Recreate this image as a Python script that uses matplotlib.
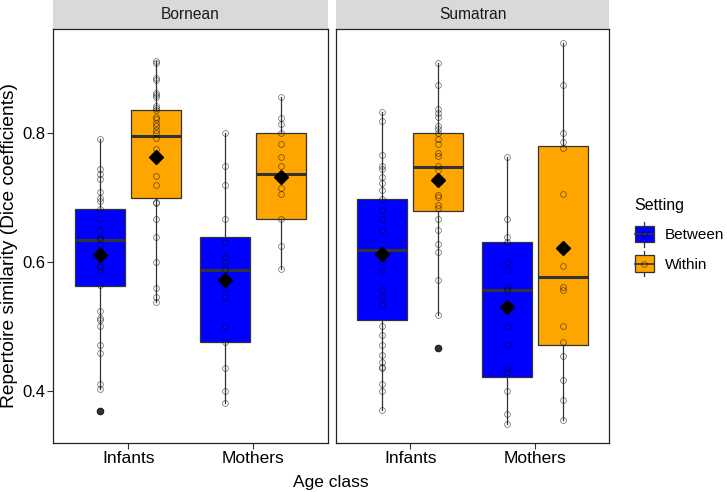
"""
Repertoire similarity by age class, species and setting (boxplots with raw points).
"""
import matplotlib
matplotlib.use('Agg')
import matplotlib.pyplot as plt
from matplotlib.patches import Patch, Rectangle
from matplotlib.lines import Line2D
from matplotlib.legend_handler import HandlerBase

plt.rcParams['font.family'] = ['Liberation Sans', 'DejaVu Sans']

species = ['Bornean', 'Sumatran']
ages = ['Infants', 'Mothers']
settings = ['Between', 'Within']
colors = {'Between': '#0000FF', 'Within': '#FFA500'}

# raw values
born_inf_between = [0.791, 0.744, 0.736, 0.728, 0.708, 0.699, 0.695, 0.682, 0.667, 0.650,
                    0.638, 0.635, 0.626, 0.619, 0.595, 0.592, 0.585, 0.564, 0.524, 0.513,
                    0.510, 0.501, 0.471, 0.458, 0.411, 0.402, 0.369]
born_inf_within = [0.911, 0.908, 0.885, 0.882, 0.862, 0.858, 0.856, 0.842, 0.838, 0.836,
                   0.825, 0.821, 0.815, 0.810, 0.805, 0.800, 0.792, 0.775, 0.733, 0.719,
                   0.693, 0.691, 0.666, 0.639, 0.600, 0.560, 0.546, 0.538]
born_mot_between = [0.800, 0.749, 0.719, 0.666, 0.631, 0.607, 0.600, 0.589, 0.567, 0.559,
                    0.545, 0.500, 0.475, 0.435, 0.400, 0.381]
born_mot_within = [0.856, 0.823, 0.814, 0.800, 0.782, 0.762, 0.749, 0.732, 0.714, 0.705,
                   0.666, 0.624, 0.589]
suma_inf_between = [0.833, 0.818, 0.765, 0.749, 0.744, 0.732, 0.722, 0.711, 0.697, 0.681,
                    0.666, 0.650, 0.612, 0.599, 0.585, 0.556, 0.546, 0.533, 0.500, 0.486,
                    0.471, 0.456, 0.444, 0.437, 0.435, 0.411, 0.400, 0.370]
suma_inf_within = [0.909, 0.874, 0.837, 0.830, 0.824, 0.810, 0.806, 0.800, 0.790, 0.782,
                   0.769, 0.764, 0.749, 0.743, 0.728, 0.704, 0.700, 0.688, 0.683, 0.666,
                   0.650, 0.628, 0.615, 0.571, 0.517, 0.466]
suma_mot_between = [0.762, 0.666, 0.639, 0.631, 0.600, 0.588, 0.561, 0.556, 0.500, 0.471,
                    0.435, 0.429, 0.400, 0.364, 0.348]
suma_mot_within = [0.939, 0.874, 0.800, 0.785, 0.776, 0.705, 0.593, 0.561, 0.556, 0.500,
                   0.476, 0.454, 0.417, 0.385, 0.354]

# box statistics, order: species -> age -> setting
q1 = [0.562, 0.699, 0.476, 0.666, 0.509, 0.678, 0.422, 0.471]
med = [0.634, 0.795, 0.588, 0.736, 0.619, 0.747, 0.556, 0.576]
q3 = [0.682, 0.835, 0.639, 0.799, 0.697, 0.799, 0.631, 0.779]
whislo = [0.402, 0.538, 0.381, 0.589, 0.370, 0.517, 0.348, 0.354]
whishi = [0.791, 0.911, 0.800, 0.856, 0.833, 0.909, 0.762, 0.939]
means = [0.610, 0.763, 0.572, 0.731, 0.612, 0.727, 0.530, 0.622]

groups = [born_inf_between, born_inf_within, born_mot_between, born_mot_within,
          suma_inf_between, suma_inf_within, suma_mot_between, suma_mot_within]

W, H = 727, 492
fig = plt.figure(figsize=(W / 100, H / 100), dpi=100)
ax1 = fig.add_axes([53.3 / W, 1 - 443 / H, 274.4 / W, 414 / H])
ax2 = fig.add_axes([335.7 / W, 1 - 443 / H, 273.6 / W, 414 / H], sharey=ax1)

dodge = 0.225
for s, (ax, sp) in enumerate(zip([ax1, ax2], species)):
    for a, age in enumerate(ages):
        for k, st in enumerate(settings):
            i = s * 4 + a * 2 + k
            pos = a + 1 + (dodge if k else -dodge)
            vals = groups[i]
            fl = [v for v in vals if v < whislo[i] or v > whishi[i]]
            stats = [dict(med=med[i], q1=q1[i], q3=q3[i], whislo=whislo[i],
                          whishi=whishi[i], fliers=fl, mean=means[i])]
            ax.bxp(stats, positions=[pos], widths=0.4, patch_artist=True,
                   showcaps=False, showfliers=True, showmeans=False,
                   boxprops=dict(facecolor=colors[st], edgecolor='#333333', linewidth=0.9),
                   whiskerprops=dict(color='#333333', linewidth=0.9),
                   medianprops=dict(color='#333333', linewidth=2.2),
                   flierprops=dict(marker='o', markersize=4.5, markerfacecolor='#333333',
                                   markeredgecolor='#333333'),
                   manage_ticks=False, zorder=2)
            ax.plot([pos] * len(vals), vals, 'o', ms=4.2, mfc='none', mec='black',
                    mew=0.6, alpha=0.5, zorder=3)
            ax.plot([pos], [means[i]], 'D', ms=7.5, color='black', zorder=4)

    ax.set_xlim(0.4, 2.6)
    ax.set_xticks([1, 2])
    ax.set_xticklabels(ages, fontsize=12.5, color='black')
    for sp_name in ax.spines.values():
        sp_name.set_color('#222222')
        sp_name.set_linewidth(0.9)
    ax.tick_params(length=4, width=0.8, color='#333333', pad=2)
    # facet strip
    ax.add_patch(Rectangle((0, 1), 1, 29 / 414, transform=ax.transAxes,
                           facecolor='#D9D9D9', edgecolor='none', clip_on=False))
    ax.text(0.5, 1 + 14.5 / 414, sp, transform=ax.transAxes, ha='center', va='center',
            fontsize=11.2, color='#1A1A1A')

ax1.set_ylim(0.319, 0.961)
ax1.set_yticks([0.4, 0.6, 0.8])
ax1.set_yticklabels(['0.4', '0.6', '0.8'], fontsize=12, color='black')
ax2.tick_params(axis='y', left=False, labelleft=False)
fig.text(10 / W, 1 - 245 / H, 'Repertoire similarity (Dice coefficients)', rotation=90,
         ha='center', va='center', fontsize=13.8)
fig.text(331 / W, 1 - 482 / H, 'Age class', ha='center', va='center', fontsize=12.5)


# legend key drawn like a small boxplot
class BoxKey(HandlerBase):
    def create_artists(self, legend, orig_handle, xdescent, ydescent, width, height,
                       fontsize, trans):
        x0, y0 = -xdescent, -ydescent
        xc, yc = x0 + width / 2, y0 + height / 2
        whisk = Line2D([xc, xc], [y0 - 0.25 * height, y0 + 1.25 * height],
                       color='#333333', lw=0.9, transform=trans)
        box = Rectangle((x0, y0), width, height, facecolor=orig_handle.get_facecolor(),
                        edgecolor='#333333', lw=0.9, transform=trans)
        mline = Line2D([x0, x0 + width], [yc, yc], color='#333333', lw=1.2, transform=trans)
        dot = Line2D([xc], [yc], marker='o', ms=4, mfc='none', mec='black', mew=0.6,
                     alpha=0.5, transform=trans)
        return [whisk, box, mline, dot]


handles = [Patch(facecolor=colors[st]) for st in settings]
leg = fig.legend(handles, settings, title='Setting', loc='upper left',
                 bbox_to_anchor=(621 / W, 1 - 184 / H), frameon=False, fontsize=11,
                 title_fontsize=11.5, handler_map={Patch: BoxKey()},
                 handlelength=1.25, handleheight=1.3, handletextpad=0.7,
                 labelspacing=0.85)
leg._legend_box.align = 'left'

fig.savefig('out.png', dpi=100)
